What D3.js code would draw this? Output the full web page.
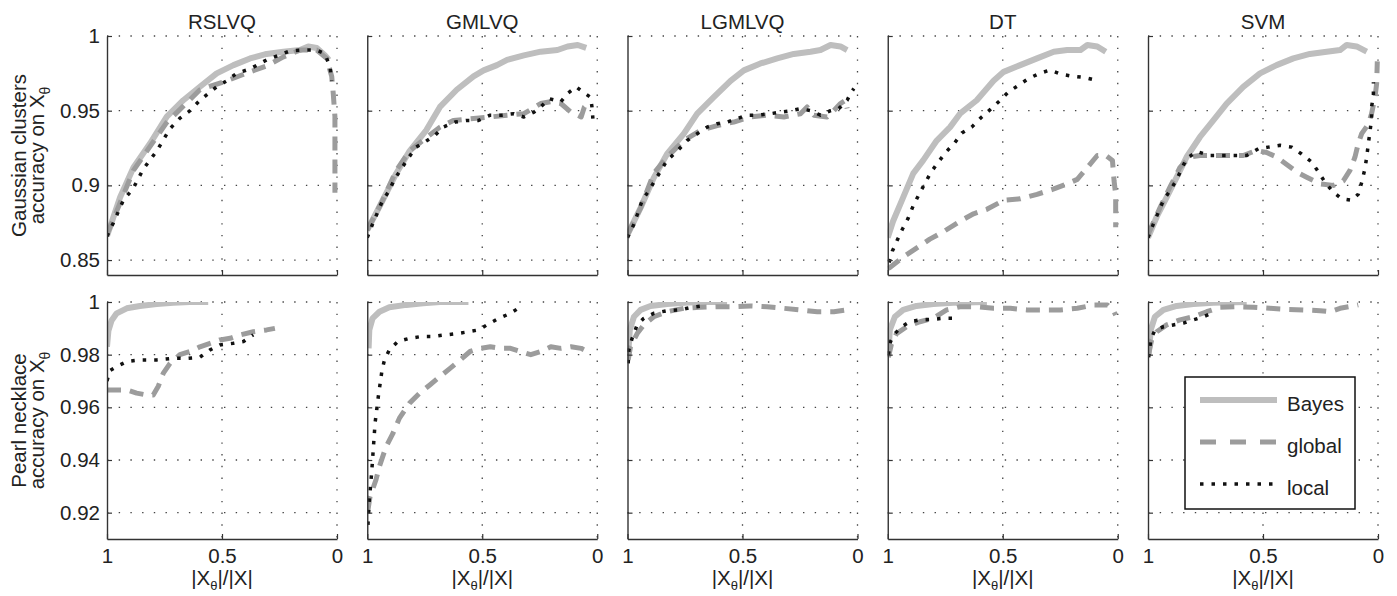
<!DOCTYPE html>
<html>
<head>
<meta charset="utf-8">
<script src="https://cdn.jsdelivr.net/npm/d3@7/dist/d3.min.js"></script>
<style>
  body { margin: 0; background: #fff; }
  text { font-family: "Liberation Sans", Arial, sans-serif; fill: #222; }
</style>
</head>
<body>
<svg id="chart" width="1397" height="596"></svg>
<script>
// methods (one column each) and tick labels
const methods = ["RSLVQ", "GMLVQ", "LGMLVQ", "DT", "SVM"];
const fracTicks = [1, 0.5, 0];
const gaussTicks = [0.85, 0.9, 0.95, 1];
const pearlTicks = [0.92, 0.94, 0.96, 0.98, 1];
const seriesNames = ["Bayes", "global", "local"];

// Gaussian clusters: [|X_theta|/|X|, accuracy], one list per method
const gaussBayes = [
  [[1,.866],[.943,.892],[.885,.912],[.813,.928],[.74,.946],[.668,.957],[.596,.966],[.523,.975],[.45,.9805],[.378,.985],[.306,.988],[.233,.9895],[.161,.9906],[.125,.993],[.088,.992],[.052,.987],[.035,.984]],
  [[1,.870],[.933,.890],[.874,.908],[.816,.923],[.743,.937],[.684,.9525],[.611,.964],[.538,.973],[.494,.977],[.436,.9805],[.392,.984],[.319,.987],[.246,.9895],[.173,.9906],[.129,.993],[.085,.994],[.048,.992]],
  [[1,.867],[.943,.885],[.886,.905],[.828,.921],[.755,.9346],[.697,.948],[.625,.959],[.552,.970],[.494,.977],[.422,.9816],[.349,.985],[.277,.988],[.204,.9895],[.161,.9906],[.117,.994],[.074,.993],[.045,.9906]],
  [[1,.865],[.977,.876],[.933,.892],[.889,.908],[.846,.9167],[.787,.930],[.729,.939],[.686,.948],[.613,.957],[.540,.970],[.496,.976],[.424,.9805],[.351,.985],[.278,.9895],[.220,.9906],[.162,.9906],[.132,.994],[.089,.993],[.052,.9895]],
  [[1,.865],[.962,.879],[.919,.892],[.875,.9055],[.832,.919],[.774,.9324],[.716,.9435],[.658,.9548],[.586,.966],[.513,.975],[.441,.9805],[.368,.985],[.296,.988],[.223,.9895],[.165,.9906],[.136,.994],[.093,.993],[.049,.9895]]
];
const gaussGlobal = [
  [[1,.867],[.885,.910],[.741,.942],[.596,.964],[.48,.970],[.378,.976],[.306,.980],[.233,.986],[.161,.9906],[.088,.9906],[.045,.985],[.023,.973],[.016,.961],[.009,.946],[.009,.923],[.009,.895]],
  [[1,.870],[.933,.890],[.874,.910],[.816,.923],[.743,.932],[.684,.939],[.626,.9435],[.538,.9447],[.465,.9458],[.392,.947],[.319,.948],[.246,.9548],[.202,.956],[.158,.9548],[.114,.949],[.070,.9458],[.056,.9525],[.041,.9548]],
  [[1,.867],[.943,.885],[.886,.908],[.828,.919],[.755,.930],[.683,.9368],[.610,.940],[.538,.9424],[.465,.9458],[.393,.947],[.320,.9458],[.248,.948],[.219,.9525],[.190,.947],[.132,.9458],[.103,.950],[.074,.9548],[.052,.957],[.045,.9514]],
  [[1,.8445],[.991,.845],[.933,.852],[.875,.858],[.817,.864],[.758,.869],[.686,.876],[.627,.881],[.569,.884],[.496,.890],[.424,.891],[.351,.894],[.278,.8976],[.220,.901],[.176,.904],[.132,.912],[.089,.920],[.052,.920],[.023,.9167],[.016,.903],[.009,.894],[.009,.872]],
  [[1,.867],[.948,.885],[.904,.899],[.861,.912],[.817,.919],[.774,.920],[.716,.920],[.658,.920],[.586,.920],[.528,.9234],[.484,.922],[.441,.919],[.397,.914],[.354,.909],[.310,.9055],[.252,.901],[.194,.900],[.151,.903],[.122,.910],[.100,.919],[.086,.928],[.071,.9346],[.042,.941],[.028,.948],[.013,.959],[.006,.968],[.003,.983]]
];
const gaussLocal = [
  [[1,.866],[.972,.875],[.929,.89],[.886,.898],[.842,.911],[.784,.923],[.726,.938],[.683,.945],[.639,.950],[.596,.957],[.523,.966],[.48,.970],[.436,.975],[.378,.978],[.306,.984],[.204,.990],[.146,.9906],[.088,.9906],[.052,.988],[.030,.979],[.023,.970]],
  [[1,.865],[.977,.874],[.933,.890],[.904,.8965],[.882,.904],[.852,.911],[.823,.918],[.787,.9256],[.750,.929],[.706,.9335],[.670,.939],[.618,.9424],[.567,.9435],[.516,.9435],[.465,.947],[.414,.947],[.363,.948],[.319,.9458],[.275,.949],[.246,.9525],[.209,.958],[.158,.956],[.129,.9615],[.092,.966],[.063,.9626],[.029,.959],[.023,.9525],[.019,.9447]],
  [[1,.865],[.972,.874],[.936,.890],[.907,.8965],[.878,.904],[.828,.9167],[.784,.923],[.741,.930],[.697,.9346],[.654,.939],[.610,.9413],[.567,.9424],[.523,.9447],[.480,.947],[.436,.947],[.378,.948],[.335,.949],[.291,.950],[.248,.9514],[.204,.950],[.161,.947],[.117,.950],[.081,.9514],[.045,.957],[.030,.9615],[.016,.9648]],
  [[.994,.8484],[.980,.856],[.958,.8636],[.936,.8708],[.911,.8781],[.889,.8864],[.863,.8943],[.838,.9014],[.812,.9088],[.780,.9156],[.747,.9223],[.710,.9283],[.678,.935],[.635,.939],[.595,.9453],[.555,.9507],[.514,.9565],[.475,.9626],[.431,.967],[.387,.9716],[.341,.9749],[.295,.9772],[.249,.9745],[.198,.9731],[.144,.9722],[.095,.9704]],
  [[1,.865],[.977,.874],[.933,.890],[.904,.8965],[.875,.904],[.854,.911],[.832,.918],[.788,.9226],[.730,.920],[.680,.920],[.622,.920],[.571,.920],[.520,.9245],[.477,.9256],[.426,.9268],[.375,.9256],[.332,.921],[.288,.9156],[.259,.909],[.230,.902],[.194,.8954],[.158,.891],[.114,.890],[.086,.894],[.071,.902],[.057,.911],[.049,.919],[.042,.928],[.035,.9357],[.028,.9447],[.028,.9525],[.020,.960],[.020,.969]]
];

// Pearl necklace
const pearlBayes = [
  [[1,.983],[.994,.989],[.980,.993],[.958,.9957],[.914,.9976],[.857,.9985],[.784,.9992],[.712,.9997],[.640,1],[.560,1]],
  [[.994,.9824],[.991,.9894],[.977,.9938],[.947,.9963],[.904,.998],[.830,.9989],[.757,.9995],[.684,1],[.560,1]],
  [[.997,.980],[.990,.9894],[.972,.9944],[.943,.997],[.900,.9985],[.828,.9992],[.755,.9997],[.683,1],[.567,1]],
  [[.997,.9805],[.991,.9894],[.969,.9944],[.933,.997],[.875,.9985],[.802,.9992],[.715,.9997],[.569,1]],
  [[.997,.980],[.988,.9894],[.970,.9944],[.933,.997],[.875,.9985],[.803,.9992],[.716,.9997],[.571,1]]
];
const pearlGlobal = [
  [[1,.9666],[.965,.9666],[.914,.9666],[.871,.9654],[.828,.9647],[.799,.9647],[.777,.968],[.755,.973],[.726,.9767],[.683,.980],[.639,.9812],[.596,.983],[.552,.9843],[.509,.9856],[.465,.9862],[.422,.9875],[.364,.9887],[.306,.9894],[.270,.990]],
  [[.997,.921],[.988,.926],[.962,.9325],[.947,.9376],[.918,.9451],[.889,.950],[.860,.9559],[.816,.9616],[.772,.9654],[.728,.9685],[.684,.9717],[.640,.9748],[.596,.978],[.553,.9812],[.509,.9824],[.465,.983],[.421,.9824],[.377,.9824],[.333,.9812],[.289,.980],[.246,.9812],[.202,.983],[.158,.9824],[.114,.983],[.070,.9824],[.056,.9818]],
  [[.997,.978],[.987,.983],[.958,.988],[.929,.9913],[.886,.9944],[.828,.9963],[.755,.9976],[.683,.998],[.610,.9982],[.538,.9982],[.465,.9985],[.393,.9982],[.320,.9976],[.248,.997],[.175,.9963],[.103,.9963],[.045,.997]],
  [[.997,.979],[.984,.984],[.962,.988],[.918,.9906],[.860,.9925],[.802,.9938],[.744,.997],[.686,.9982],[.613,.9982],[.540,.9976],[.467,.9976],[.394,.997],[.322,.997],[.249,.997],[.176,.9976],[.103,.9989],[.045,.9989],[.016,.9963],[.009,.995]],
  [[.997,.9805],[.984,.9856],[.962,.9887],[.919,.9913],[.861,.9932],[.803,.9944],[.745,.9963],[.687,.998],[.614,.9982],[.542,.998],[.470,.9976],[.397,.9972],[.325,.997],[.252,.9967],[.209,.9963],[.165,.9976],[.107,.9985],[.086,.9989]]
];
const pearlLocal = [
  [[1,.970],[.987,.974],[.958,.9755],[.914,.9774],[.857,.978],[.784,.978],[.712,.9786],[.654,.9786],[.596,.979],[.552,.9818],[.509,.9837],[.451,.9843],[.407,.985],[.364,.9875]],
  [[.997,.9154],[.994,.9199],[.991,.925],[.987,.9287],[.981,.935],[.977,.940],[.972,.9464],[.966,.954],[.959,.959],[.952,.964],[.944,.969],[.936,.974],[.925,.978],[.904,.9818],[.867,.985],[.816,.9862],[.765,.9869],[.713,.9869],[.662,.9875],[.611,.988],[.560,.9887],[.516,.9894],[.480,.9913],[.428,.9938],[.377,.9957],[.333,.9982]],
  [[.997,.9767],[.994,.9818],[.980,.9862],[.958,.9913],[.929,.9938],[.886,.9957],[.828,.9967],[.770,.997],[.726,.9979],[.668,.9986]],
  [[.997,.980],[.988,.985],[.969,.988],[.940,.9906],[.904,.9925],[.860,.9932],[.809,.9934],[.758,.9938],[.700,.9938]],
  [[.997,.979],[.988,.9856],[.970,.9894],[.933,.9906],[.890,.9913],[.846,.992],[.803,.9932],[.759,.9944],[.709,.9963]]
];

const svg = d3.select("#chart");
const fontSize = 20.5;
const panelW = 230, firstLeft = 107, colStep = 260.25;

const rows = [
  { top: 36, bottom: 275, domain: [0.84, 1], ticks: gaussTicks, label: "Gaussian clusters",
    series: [gaussBayes, gaussGlobal, gaussLocal] },
  { top: 302, bottom: 539, domain: [0.91, 1], ticks: pearlTicks, label: "Pearl necklace",
    series: [pearlBayes, pearlGlobal, pearlLocal] }
];

const styles = [
  { stroke: "#bebebe", width: 6, dash: null },
  { stroke: "#9c9c9c", width: 5, dash: "14,9" },
  { stroke: "#111", width: 3.5, dash: "3.5,8" }
];

svg.append("rect").attr("width", 1397).attr("height", 596).attr("fill", "#fff");

rows.forEach((row, r) => {
  methods.forEach((m, c) => {
    const left = firstLeft + c * colStep;
    const x = d3.scaleLinear().domain([1, 0]).range([0, panelW]);
    const y = d3.scaleLinear().domain(row.domain).range([row.bottom - row.top, 0]);
    const h = row.bottom - row.top;
    const g = svg.append("g").attr("transform", `translate(${left},${row.top})`);

    // dotted grid
    g.selectAll(".hgrid").data(row.ticks).enter().append("line")
      .attr("x1", 0).attr("x2", panelW)
      .attr("y1", d => y(d)).attr("y2", d => y(d))
      .attr("stroke", "#444").attr("stroke-width", 1.3).attr("stroke-dasharray", "1.4,10.3");
    g.selectAll(".vgrid").data(fracTicks.slice(1)).enter().append("line")
      .attr("x1", d => x(d)).attr("x2", d => x(d))
      .attr("y1", 0).attr("y2", h)
      .attr("stroke", "#444").attr("stroke-width", 1.3).attr("stroke-dasharray", "1.4,10.3");

    // curves
    const clipId = `clip-${r}-${c}`;
    g.append("clipPath").attr("id", clipId)
      .append("rect").attr("x", 0).attr("y", 0).attr("width", panelW + 3).attr("height", h);
    const line = d3.line().x(d => x(d[0])).y(d => y(d[1]));
    const plot = g.append("g").attr("clip-path", `url(#${clipId})`);
    row.series.forEach((s, k) => {
      plot.append("path").datum(s[c])
        .attr("d", line)
        .attr("fill", "none")
        .attr("stroke", styles[k].stroke)
        .attr("stroke-width", styles[k].width)
        .attr("stroke-linejoin", "round")
        .attr("stroke-dasharray", styles[k].dash);
    });

    // axes
    const yAxis = d3.axisLeft(y).tickValues(row.ticks).tickSizeInner(-5).tickSizeOuter(0).tickPadding(7)
      .tickFormat(c === 0 ? d => String(d) : () => "");
    const xAxis = d3.axisBottom(x).tickValues(fracTicks).tickSizeInner(-5).tickSizeOuter(0).tickPadding(9)
      .tickFormat(r === 1 ? d => String(d) : () => "");
    const ya = g.append("g").call(yAxis);
    const xa = g.append("g").attr("transform", `translate(0,${h})`).call(xAxis);
    [ya, xa].forEach(a => {
      a.select(".domain").attr("stroke", "#333").attr("stroke-width", 1.4);
      a.selectAll(".tick line").attr("stroke", "#333").attr("stroke-width", 1.2);
      a.selectAll(".tick text").attr("font-size", fontSize).attr("font-family", "Liberation Sans, Arial, sans-serif").attr("fill", "#222");
    });

    if (r === 0) {
      g.append("text").attr("x", panelW / 2).attr("y", -7)
        .attr("text-anchor", "middle").attr("font-size", fontSize).text(m);
    }
    if (r === 1) {
      const t = g.append("text").attr("x", panelW / 2).attr("y", h + 46)
        .attr("text-anchor", "middle").attr("font-size", fontSize);
      t.append("tspan").text("|X");
      t.append("tspan").attr("font-size", 13).attr("dy", 5).text("θ");
      t.append("tspan").attr("dy", -5).text("|/|X|");
    }
  });

  // two-line rotated y label
  const cy = (row.top + row.bottom) / 2;
  svg.append("text").attr("transform", `translate(25.5,${cy}) rotate(-90)`)
    .attr("text-anchor", "middle").attr("font-size", fontSize).text(row.label);
  const t2 = svg.append("text").attr("transform", `translate(43.5,${cy}) rotate(-90)`)
    .attr("text-anchor", "middle").attr("font-size", fontSize);
  t2.append("tspan").text("accuracy on X");
  t2.append("tspan").attr("font-size", 14).attr("dy", 6).text("θ");
});

// legend in the last bottom panel
const lg = svg.append("g");
lg.append("rect").attr("x", 1185).attr("y", 377).attr("width", 170).attr("height", 132)
  .attr("fill", "#fff").attr("stroke", "#111").attr("stroke-width", 1.5);
seriesNames.forEach((name, k) => {
  const ly = 400 + k * 42;
  lg.append("line").attr("x1", 1200).attr("x2", 1277).attr("y1", ly).attr("y2", ly)
    .attr("stroke", styles[k].stroke).attr("stroke-width", styles[k].width)
    .attr("stroke-dasharray", k === 1 ? "16,14" : styles[k].dash);
  lg.append("text").attr("x", 1287).attr("y", ly + 11).attr("font-size", fontSize).text(name);
});
</script>
</body>
</html>
